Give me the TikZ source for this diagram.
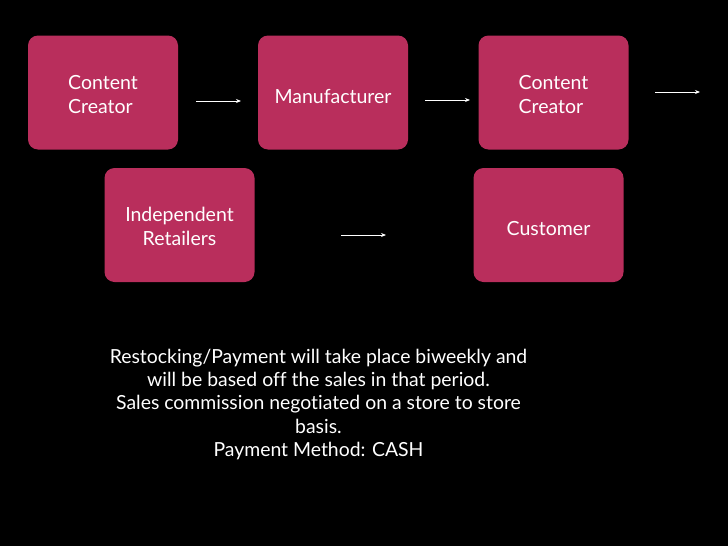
\documentclass[tikz,border=0pt]{standalone}
\usepackage{fontspec}
\setmainfont{Lato}[Ligatures=NoCommon]
\definecolor{boxfill}{RGB}{185,46,92}
\usetikzlibrary{arrows.meta}
\tikzset{
  stagebox/.style={fill=boxfill, rounded corners=10pt, minimum width=150pt, minimum height=114pt, inner sep=0pt},
  boxlabel/.style={inner sep=0pt, text=white, font=\fontsize{19.5}{25}\selectfont},
  flowarrow/.style={draw=white, line width=0.9pt, -{Stealth[length=5pt,width=4pt]}},
  notetext/.style={text=white, align=center, font=\fontsize{19.4}{23.3}\selectfont}
}
\begin{document}
\begin{tikzpicture}[x=1pt,y=-1pt]
\useasboundingbox[fill=black] (0,0) rectangle (728,546);
\node[stagebox] (cc1) at (103,92.5) {};
\node[stagebox] (man) at (333,92.5) {};
\node[stagebox] (cc2) at (553.5,92.5) {};
\node[stagebox] (ret) at (179.5,225) {};
\node[stagebox] (cus) at (548.5,225) {};
\node[boxlabel] (cc1t) at ([yshift=-3.5pt]cc1.center) {\begin{tabular}{@{}l@{}}Content\\[-1pt]Creator\end{tabular}};
\node[boxlabel] (mant) at ([yshift=-3.5pt]man.center) {Manufacturer};
\node[boxlabel] (cc2t) at ([yshift=-3.5pt]cc2.center) {\begin{tabular}{@{}l@{}}Content\\[-1pt]Creator\end{tabular}};
\node[boxlabel] (rett) at ([yshift=-3.5pt]ret.center) {\begin{tabular}{@{}c@{}}Independent\\[-1pt]Retailers\end{tabular}};
\node[boxlabel] (cust) at ([yshift=-3.5pt]cus.center) {Customer};
\coordinate (a1s) at (196,101); \coordinate (a1e) at (241,101);
\coordinate (a2s) at (425,100); \coordinate (a2e) at (470,100);
\coordinate (a3s) at (655,92); \coordinate (a3e) at (700,92);
\coordinate (a4s) at (341,235); \coordinate (a4e) at (386,235);
\draw[flowarrow] (a1s) -- (a1e);
\draw[flowarrow] (a2s) -- (a2e);
\draw[flowarrow] (a3s) -- (a3e);
\draw[flowarrow] (a4s) -- (a4e);
\node[notetext, anchor=north] (note) at (318.5,345.5) {Restocking/Payment will take place biweekly and\\will be based off the sales in that period.\\Sales commission negotiated on a store to store\\basis.\\Payment Method: CASH};
\end{tikzpicture}
\end{document}
